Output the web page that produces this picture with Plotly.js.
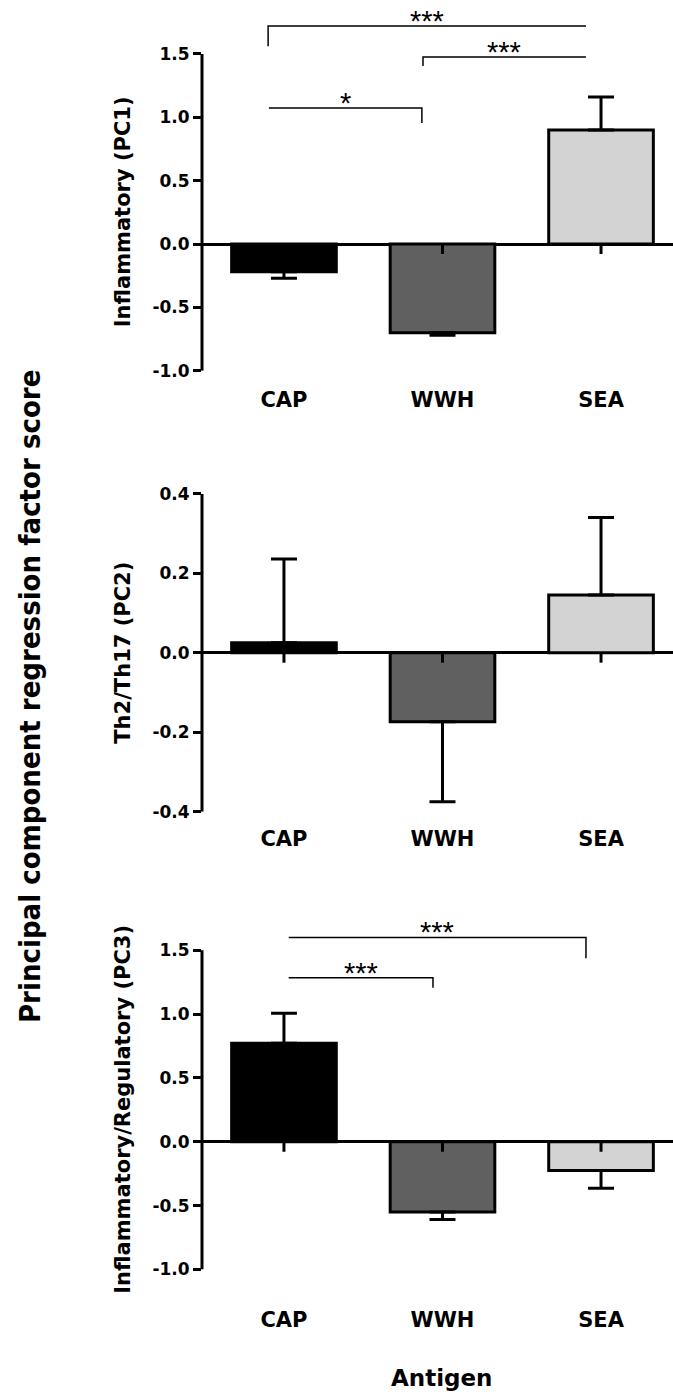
<!DOCTYPE html>
<html>
<head>
<meta charset="utf-8">
<script src="https://cdn.plot.ly/plotly-3.0.1.min.js"></script>
<style>html,body{margin:0;padding:0;background:#fff;}</style>
</head>
<body>
<div id="chart" style="width:673px;height:1394px;"></div>
<script>
// ---------------- data ----------------
const categories = ['CAP', 'WWH', 'SEA'];
const barColors = ['#000000', '#606060', '#d3d3d3'];

const pc1Mean = [-0.22, -0.70, 0.90];
const pc1Err  = [0.05, 0.02, 0.26];

const pc2Mean = [0.025, -0.174, 0.145];
const pc2Err  = [0.211, 0.201, 0.195];

const pc3Mean = [0.77, -0.55, -0.225];
const pc3Err  = [0.235, 0.06, 0.14];

const pc1TickVals = [-1, -0.5, 0, 0.5, 1, 1.5];
const pc1TickText = ['-1.0', '-0.5', '0.0', '0.5', '1.0', '1.5'];
const pc2TickVals = [-0.4, -0.2, 0, 0.2, 0.4];
const pc2TickText = ['-0.4', '-0.2', '0.0', '0.2', '0.4'];
const pc3TickVals = [-1, -0.5, 0, 0.5, 1, 1.5];
const pc3TickText = ['-1.0', '-0.5', '0.0', '0.5', '1.0', '1.5'];

const yTitles = ['Inflammatory (PC1)', 'Th2/Th17 (PC2)', 'Inflammatory/Regulatory (PC3)'];
const commonTitle = 'Principal component regression factor score';
const xTitle = 'Antigen';

// significance brackets: [x-left, x-right, y-line, left drop to, right drop to, label]
const pc1Sig = [
  [-0.10, 1.905, 1.72, 1.56, null, '***'],
  [0.877, 1.905, 1.476, 1.405, null, '***'],
  [-0.095, 0.87, 1.073, null, 0.955, '*']
];
const pc3Sig = [
  [0.03, 1.905, 1.60, null, 1.436, '***'],
  [0.03, 0.94, 1.284, null, 1.206, '***']
];

// ---------------- layout geometry ----------------
const W = 673, H = 1394;
const FONT = '"DejaVu Sans", "Liberation Sans", Arial, sans-serif';
const STAR_FONT = '"Liberation Sans", Arial, sans-serif';
const B = s => '<b>' + s + '</b>';
const panels = [
  {mean: pc1Mean, err: pc1Err, tv: pc1TickVals, tt: pc1TickText, zeroPx: 244,    ppu: 126.7, lo: -1,   hi: 1.91, axLo: -1,   axHi: 1.5, sig: pc1Sig, tl: 10},
  {mean: pc2Mean, err: pc2Err, tv: pc2TickVals, tt: pc2TickText, zeroPx: 652.7,  ppu: 397.5, lo: -0.4, hi: 0.4,  axLo: -0.4, axHi: 0.4, sig: [],     tl: 8},
  {mean: pc3Mean, err: pc3Err, tv: pc3TickVals, tt: pc3TickText, zeroPx: 1141.7, ppu: 127.7, lo: -1,   hi: 1.78, axLo: -1,   axHi: 1.5, sig: pc3Sig, tl: 31}
];

const data = [];
const layout = {
  width: W, height: H, autosize: false,
  margin: {l: 202, r: 0, t: 0, b: 0, pad: 0},
  paper_bgcolor: '#fff', plot_bgcolor: '#fff',
  showlegend: false,
  bargap: 0.34,
  font: {family: FONT, color: '#000'},
  shapes: [], annotations: []
};

panels.forEach((p, i) => {
  const n = i === 0 ? '' : String(i + 1);
  const xa = 'x' + n, ya = 'y' + n;
  const plus = p.mean.map((v, k) => v >= 0 ? p.err[k] : 0);
  const minus = p.mean.map((v, k) => v < 0 ? p.err[k] : 0);
  data.push({
    type: 'bar', x: categories, y: p.mean, xaxis: xa, yaxis: ya,
    marker: {color: barColors, line: {color: '#000', width: 3}},
    error_y: {type: 'data', symmetric: false, array: plus, arrayminus: minus,
              color: '#000', thickness: 3, width: 13},
    hoverinfo: 'skip'
  });
  const topPx = p.zeroPx - p.hi * p.ppu;
  const botPx = p.zeroPx - p.lo * p.ppu;
  layout['xaxis' + n] = {
    domain: [0, 1], anchor: ya, type: 'category',
    range: [-0.517, 2.454], showgrid: false, zeroline: false, showline: false,
    ticks: 'outside', ticklen: p.tl, tickcolor: 'rgba(0,0,0,0)',
    tickvals: categories, ticktext: categories.map(B),
    tickfont: {family: FONT, size: 21, color: '#000', weight: 700},
    fixedrange: true
  };
  layout['yaxis' + n] = {
    domain: [1 - botPx / H, 1 - topPx / H], anchor: xa,
    range: [p.lo, p.hi], showgrid: false,
    zeroline: true, zerolinecolor: '#000', zerolinewidth: 3,
    showline: false, ticks: 'outside', ticklen: 8, tickwidth: 3, tickcolor: '#000',
    tickvals: p.tv, ticktext: p.tt.map(B),
    tickfont: {family: FONT, size: 17, color: '#000', weight: 700},
    fixedrange: true
  };
  // y axis line (only over the labelled range)
  layout.shapes.push({type: 'line', xref: 'paper', yref: ya, x0: 0, x1: 0,
    y0: p.axLo, y1: p.axHi, line: {color: '#000', width: 3}});
  // category tick marks on the zero line
  categories.forEach((c, k) => {
    layout.shapes.push({type: 'line', xref: xa, yref: ya, x0: k, x1: k,
      ysizemode: 'pixel', yanchor: 0, y0: 0, y1: -10, line: {color: '#000', width: 3}});
  });
  // y title
  layout.annotations.push({xref: 'paper', yref: ya, x: (123 - 202) / (W - 202),
    y: (p.axLo + p.axHi) / 2, text: B(yTitles[i]), showarrow: false, textangle: -90,
    xanchor: 'center', yanchor: 'middle',
    font: {family: FONT, size: 21, color: '#000', weight: 700}});
  // significance brackets
  p.sig.forEach(s => {
    const [xl, xr, yl, dl, dr, lab] = s;
    let path = '';
    if (dl !== null) path += `M${xl},${dl} L${xl},${yl} L${xr},${yl}`;
    else path += `M${xl},${yl} L${xr},${yl}`;
    if (dr !== null) path += ` L${xr},${dr}`;
    layout.shapes.push({type: 'path', xref: xa, yref: ya, path: path,
      line: {color: '#000', width: 1.5}});
    layout.annotations.push({xref: xa, yref: ya, x: (xl + xr) / 2, y: yl,
      text: lab, showarrow: false, xanchor: 'center', yanchor: 'bottom', yshift: -13,
      font: {family: STAR_FONT, size: 29, color: '#000'}});
  });
});

layout.annotations.push({xref: 'paper', yref: 'paper', x: (30 - 202) / (W - 202),
  y: 1 - 697 / H, text: B(commonTitle), showarrow: false, textangle: -90,
  xanchor: 'center', yanchor: 'middle',
  font: {family: '"Liberation Sans Narrow", "DejaVu Sans Condensed", "Liberation Sans", Arial, sans-serif', size: 29, color: '#000', weight: 700}});
layout.annotations.push({xref: 'x3', yref: 'paper', x: 1, y: 1 - 1378 / H,
  text: B(xTitle), showarrow: false, xanchor: 'center', yanchor: 'middle',
  font: {family: FONT, size: 23, color: '#000', weight: 700}});

Plotly.newPlot('chart', data, layout, {displayModeBar: false, staticPlot: true});
</script>
</body>
</html>
